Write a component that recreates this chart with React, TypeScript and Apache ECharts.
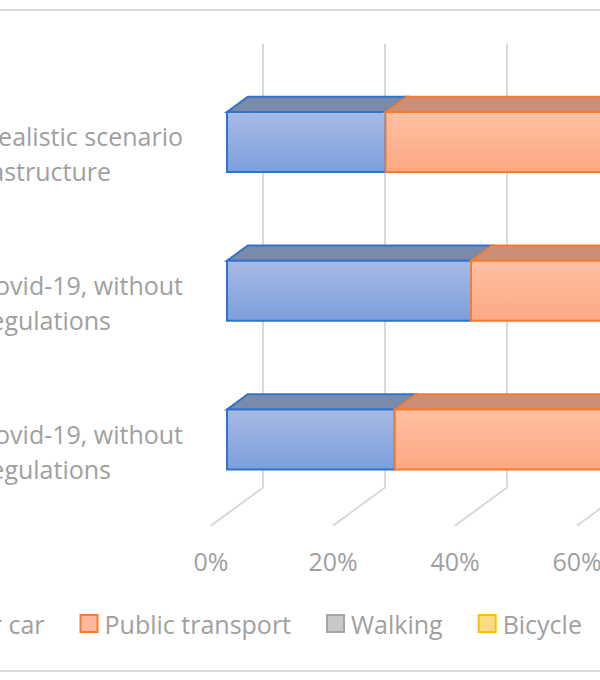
import React, { useEffect, useRef } from "react";
import * as echarts from "echarts";

// ---- data (values in %) ----
const categories = [
  "Before Covid-19, without\nregulations",
  "During Covid-19, without\nregulations",
  "Realistic scenario\nwith infrastructure",
];
const passengerCar = [27.5, 40, 26];
const publicTransport = [52, 40, 54];
const walking = [12, 12, 12];
const bicycle = [8.5, 8, 8];
const tickValues = [0, 20, 40, 60, 80, 100];

const seriesNames = ["Passenger car", "Public transport", "Walking", "Bicycle"];
const seriesValues = [passengerCar, publicTransport, walking, bicycle];

// ---- styles ----
const FONT = "'Open Sans', sans-serif";
const TEXT = "#a0a0a0";
const GRID_LINE = "#d9d9d9";
const palettes = [
  { top: "#7b8aa8", grad: ["#a8bae4", "#7c9fdc"], stroke: "#2e74cf", legend: "#a9bbe5" },
  { top: "#c98f79", grad: ["#ffc0a2", "#fca884"], stroke: "#f87b2b", legend: "#ffb89c" },
  { top: "#8e8e8e", grad: ["#d2d2d2", "#bcbcbc"], stroke: "#a5a5a5", legend: "#c8c8c8" },
  { top: "#c2a35e", grad: ["#ffe09a", "#ffd36c"], stroke: "#ffc000", legend: "#ffd98a" },
];

// oblique projection offsets (px)
const WALL_DX = 52;
const WALL_DY = -38;
const FRONT_DX = 16;
const FRONT_DY = -11.8;
const DEPTH_DX = 20.8;
const DEPTH_DY = -15.2;
const BAR_RATIO = 0.403;

export default function App() {
  const ref = useRef<HTMLDivElement>(null);

  useEffect(() => {
    if (!ref.current) return;
    const chart = echarts.init(ref.current, undefined, { renderer: "svg" });

    const stackedData = seriesValues.map(() => [] as number[][]);
    categories.forEach((_, ci) => {
      let acc = 0;
      seriesValues.forEach((vals, si) => {
        stackedData[si].push([ci, acc, acc + vals[ci]]);
        acc += vals[ci];
      });
    });

    const barSeries = seriesNames.map((name, si) => {
      const pal = palettes[si];
      const isLast = si === seriesNames.length - 1;
      return {
        type: "custom",
        name,
        z: 3,
        itemStyle: { color: pal.legend, borderColor: pal.stroke },
        encode: { x: [1, 2], y: 0 },
        data: stackedData[si],
        renderItem: (params: any, api: any) => {
          const cat = api.value(0);
          const s = api.value(1);
          const e = api.value(2);
          const a = api.coord([s, cat]);
          const b = api.coord([e, cat]);
          const h = api.size([0, 1])[1] * BAR_RATIO;
          const x0 = a[0] + FRONT_DX;
          const x1 = b[0] + FRONT_DX;
          const yT = a[1] + FRONT_DY - h / 2;
          const yB = yT + h;
          const children: any[] = [
            {
              type: "polygon",
              shape: {
                points: [
                  [x0, yT],
                  [x1, yT],
                  [x1 + DEPTH_DX, yT + DEPTH_DY],
                  [x0 + DEPTH_DX, yT + DEPTH_DY],
                ],
              },
              style: { fill: pal.top, stroke: pal.stroke, lineWidth: 2 },
            },
            {
              type: "rect",
              shape: { x: x0, y: yT, width: x1 - x0, height: h },
              style: {
                fill: new echarts.graphic.LinearGradient(0, 0, 0, 1, [
                  { offset: 0, color: pal.grad[0] },
                  { offset: 1, color: pal.grad[1] },
                ]),
                stroke: pal.stroke,
                lineWidth: 2,
              },
            },
          ];
          if (isLast) {
            children.push({
              type: "polygon",
              shape: {
                points: [
                  [x1, yT],
                  [x1 + DEPTH_DX, yT + DEPTH_DY],
                  [x1 + DEPTH_DX, yB + DEPTH_DY],
                  [x1, yB],
                ],
              },
              style: { fill: pal.grad[1], stroke: pal.stroke, lineWidth: 2 },
            });
          }
          return { type: "group", children };
        },
      };
    });

    const gridSeries = {
      type: "custom",
      name: "grid",
      z: 1,
      silent: true,
      encode: { x: 0, y: 1 },
      data: tickValues.map((v) => [v, 0]),
      renderItem: (params: any, api: any) => {
        const x = api.coord([api.value(0), 0])[0];
        const cs = params.coordSys;
        const top = cs.y;
        const bottom = cs.y + cs.height;
        return {
          type: "polyline",
          shape: {
            points: [
              [x + WALL_DX, top + WALL_DY + 2],
              [x + WALL_DX, bottom + WALL_DY],
              [x, bottom],
            ],
          },
          style: { fill: "none", stroke: GRID_LINE, lineWidth: 2 },
        };
      },
    };

    chart.setOption({
      animation: false,
      backgroundColor: "#ffffff",
      textStyle: { fontFamily: FONT },
      graphic: [
        {
          type: "rect",
          silent: true,
          z: -10,
          shape: { x: -10, y: 10, width: 620, height: 661 },
          style: { fill: "none", stroke: "#d9d9d9", lineWidth: 2 },
        },
      ],
      grid: {
        left: 211,
        top: 79.4,
        width: 610,
        height: 446.2,
        containLabel: false,
        outerBoundsMode: "none",
      },
      xAxis: {
        type: "value",
        min: 0,
        max: 100,
        interval: 20,
        axisLine: { show: false },
        axisTick: { show: false },
        splitLine: { show: false },
        axisLabel: {
          formatter: (v: number) => `${v}%`,
          color: TEXT,
          fontSize: 25,
          fontFamily: FONT,
          margin: 23,
          hideOverlap: false,
        },
      },
      yAxis: {
        type: "category",
        data: categories,
        axisLine: { show: false },
        axisTick: { show: false },
        splitLine: { show: false },
        axisLabel: {
          margin: 28,
          align: "right",
          formatter: (v: string) => {
            const [l1, l2] = v.split("\n");
            return `{l1|${l1}}\n{l2|${l2}}`;
          },
          rich: {
            l1: { align: "right", fontSize: 25, color: TEXT, fontFamily: FONT, lineHeight: 35 },
            l2: {
              align: "right",
              fontSize: 25,
              color: TEXT,
              fontFamily: FONT,
              lineHeight: 35,
              padding: [0, 72, 0, 0],
            },
          },
        },
      },
      legend: {
        left: -143,
        top: 611,
        padding: 0,
        itemWidth: 17,
        itemHeight: 17,
        itemGap: 35,
        icon: "rect",
        selectedMode: false,
        textStyle: { color: TEXT, fontSize: 25, fontFamily: FONT, padding: [0, 0, 0, 2] },
        data: seriesNames.map((name, i) => ({
          name,
          itemStyle: {
            color: palettes[i].legend,
            borderColor: palettes[i].stroke,
            borderWidth: 2,
          },
        })),
      },
      series: [gridSeries, ...barSeries],
    });

    return () => chart.dispose();
  }, []);

  return (
    <div
      ref={ref}
      style={{ position: "fixed", left: 0, top: 0, width: 600, height: 680, background: "#fff" }}
    />
  );
}
